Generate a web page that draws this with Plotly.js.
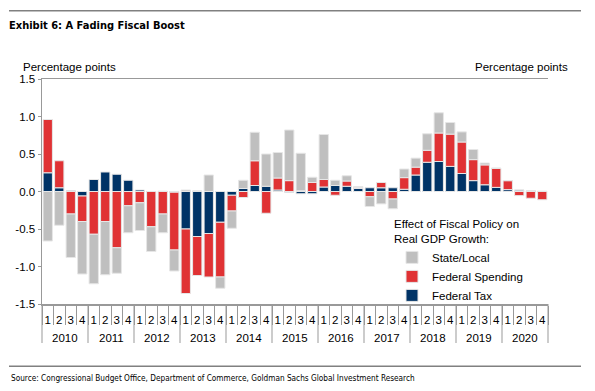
<!DOCTYPE html>
<html>
<head>
<meta charset="utf-8">
<script src="https://cdn.plot.ly/plotly-3.0.1.min.js"></script>
<style>html,body{margin:0;padding:0;background:#fff;}#chart{width:595px;height:391px;}</style>
</head>
<body>
<div id="chart"></div>
<script>
const years = ['2010','2011','2012','2013','2014','2015','2016','2017','2018','2019','2020'];
const quarters = ['1','2','3','4'];

const federalTax = [0.25,0.05,0.01,-0.06, 0.16,0.26,0.23,0.15, 0.02,0.00,0.005,-0.01,
  -0.50,-0.60,-0.56,-0.41, -0.05,0.04,0.08,0.07, 0.02,-0.01,-0.03,-0.03,
  0.06,0.08,0.07,0.04, 0.05,0.05,0.05,0.03, 0.22,0.39,0.40,0.335,
  0.24,0.145,0.09,0.055, 0.025,0.02,0.01,0.0];
const federalSpending = [0.71,0.36,-0.30,-0.34, -0.57,-0.40,-0.75,-0.19, -0.15,-0.47,-0.30,-0.77,
  -0.86,-0.52,-0.58,-0.73, -0.21,-0.08,0.33,-0.29, 0.16,0.145,0.01,0.12,
  0.10,-0.05,0.07,0.015, -0.07,0.07,-0.10,0.155, 0.105,0.16,0.38,0.43,
  0.42,0.28,0.265,0.255, 0.12,-0.055,-0.09,-0.11];
const stateLocal = [-0.66,-0.45,-0.58,-0.70, -0.66,-0.71,-0.34,-0.36, -0.37,-0.33,-0.25,-0.28,
  0.02,0.01,0.22,-0.15, -0.23,0.11,0.38,0.43, 0.34,0.675,0.50,0.07,
  0.60,0.07,0.07,0.01, -0.13,-0.165,-0.13,0.115, 0.12,0.22,0.27,0.155,
  0.135,0.135,0.025,0.0, 0.0,0.0,0.0,0.005];

const yTickVals = [-1.5,-1.0,-0.5,0,0.5,1.0,1.5];
const yTickText = ['-1.5','-1.0','-0.5','0.0','0.5','1.0','1.5'];

const xCats = [], xQuarterText = [];
years.forEach(y => quarters.forEach(q => { xCats.push(y + ' Q' + q); xQuarterText.push(q); }));

const lineStyle = {color:'#e6e6e6', width:1};
const traces = [
  {type:'bar', name:'Federal Tax', x:xCats, y:federalTax, marker:{color:'#003366', line:lineStyle}},
  {type:'bar', name:'Federal Spending', x:xCats, y:federalSpending, marker:{color:'#E03234', line:lineStyle}},
  {type:'bar', name:'State/Local', x:xCats, y:stateLocal, marker:{color:'#BFBFBF', line:lineStyle}}
];

const W = 506, H = 225, L = 42, T = 79;
const px = v => (v - L) / W;
const py = v => (T + H - v) / H;
const NARROW = 'Liberation Sans Narrow, DejaVu Sans Condensed, Arial Narrow, sans-serif';
const TICKFONT = {family:'Liberation Sans, Arial, sans-serif', size:11.5, color:'#000'};

const axisCommon = {
  range:[-1.5,1.5], tickvals:yTickVals, ticktext:yTickText,
  ticks:'outside', ticklen:3, tickcolor:'#999', showline:true, linecolor:'#999', linewidth:1.5,
  zeroline:false, showgrid:false, tickfont:TICKFONT
};

const nCats = xCats.length, nQ = quarters.length;
const shapes = [
  {type:'line', xref:'paper', yref:'paper', x0:px(9), x1:px(581), y0:py(10.7), y1:py(10.7), line:{color:'#808080', width:1.5}},
  {type:'line', xref:'paper', yref:'paper', x0:px(9), x1:px(581), y0:py(366.3), y1:py(366.3), line:{color:'#808080', width:1.5}}
];
// year dividers (axis decoration)
for (let j = 0; j <= years.length; j++) {
  const xp = j * nQ / nCats;
  shapes.push({type:'line', xref:'paper', yref:'paper', x0:xp, x1:xp, y0:0, y1:py(343), line:{color:'#999', width:1}});
}
const annotations = [
  {text:'Percentage points', xref:'paper', yref:'paper', x:px(20.7), y:py(67), xanchor:'left', yanchor:'middle', showarrow:false, font:{size:11.5}},
  {text:'Percentage points', xref:'paper', yref:'paper', x:px(570), y:py(67), xanchor:'right', yanchor:'middle', showarrow:false, font:{size:11.5}},
  {text:'Source: Congressional Budget Office, Department of Commerce, Goldman Sachs Global Investment Research',
    xref:'paper', yref:'paper', x:px(9), y:py(378), xanchor:'left', yanchor:'middle', showarrow:false,
    font:{family:NARROW, size:8.2, color:'#000'}}
];
// year group labels
years.forEach((y, j) => {
  annotations.push({text:y, xref:'paper', yref:'paper', x:(j * nQ + nQ / 2) / nCats, y:py(338),
    xanchor:'center', yanchor:'middle', showarrow:false, font:TICKFONT});
});

const layout = {
  width:595, height:391,
  margin:{l:L, r:595-L-W, t:T, b:391-T-H},
  paper_bgcolor:'#fff', plot_bgcolor:'#fff',
  barmode:'relative', bargap:0.19,
  font:{family:'Liberation Sans, Arial, sans-serif', size:11.5, color:'#000'},
  title:{text:'<b>Exhibit 6: A Fading Fiscal Boost</b>', xref:'container', yref:'container',
    x:9/595, xanchor:'left', y:1-25/391, yanchor:'middle',
    font:{family:NARROW, size:11, color:'#000'}},
  xaxis:{type:'category', tickmode:'array', tickvals:xCats, ticktext:xQuarterText, tickangle:0,
    ticks:'outside', ticklen:19, tickcolor:'#999', tickson:'boundaries',
    showline:true, linecolor:'#999', linewidth:1.5, mirror:true, showgrid:false,
    ticklabelstandoff:5, tickfont:TICKFONT},
  yaxis:Object.assign({}, axisCommon, {side:'left'}),
  yaxis2:Object.assign({}, axisCommon, {side:'right', overlaying:'y', matches:'y'}),
  showlegend:true,
  legend:{x:px(392), y:py(213), xanchor:'left', yanchor:'top', traceorder:'reversed',
    bgcolor:'rgba(0,0,0,0)', font:{size:11.5},
    title:{text:'Effect of Fiscal Policy on<br>Real GDP Growth:', side:'top', font:{size:11.5}}},
  annotations:annotations,
  shapes:shapes
};

Plotly.newPlot('chart', traces, layout, {displayModeBar:false, staticPlot:true});
</script>
</body>
</html>
